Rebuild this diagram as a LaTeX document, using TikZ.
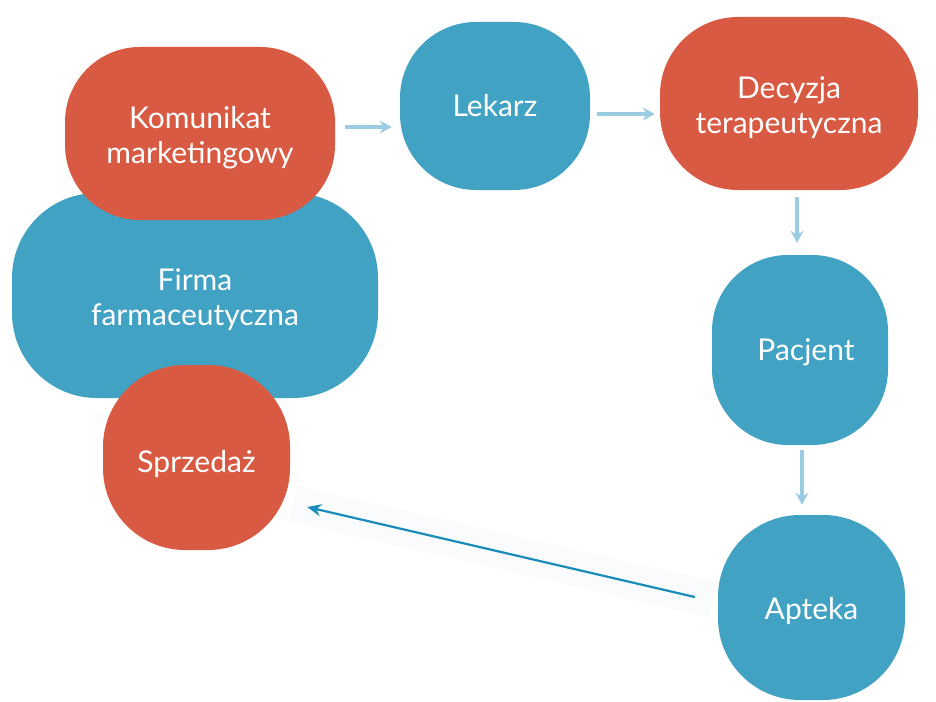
\documentclass[tikz,border=0pt]{standalone}
\usepackage{fontspec}
\setmainfont{Lato}
\usetikzlibrary{arrows.meta,backgrounds}
\definecolor{cred}{HTML}{D95A42}
\definecolor{cblue}{HTML}{42A2C4}
\definecolor{clight}{HTML}{9ACDE3}
\definecolor{cdark}{HTML}{1A8CB8}
\definecolor{cband}{HTML}{FAFBFC}
\newcommand{\lowered}[2]{\raisebox{-#1}[\height][\depth]{#2}}
\newcommand{\twolines}[2]{\lowered{5pt}{\begin{tabular}{@{}c@{}}#1\\#2\end{tabular}}}
\tikzset{
  blob/.style={rounded corners=#1, inner sep=0pt, text=white, align=center,
    font=\fontsize{30}{35}\selectfont},
  redblob/.style={blob=#1, fill=cred},
  blueblob/.style={blob=#1, fill=cblue},
  lightarrow/.style={line width=3.5pt, draw=clight, -{Stealth[length=12pt,width=13pt,inset=4pt]}},
  mainarrow/.style={line width=2.2pt, draw=cdark, -{Stealth[length=14pt,width=12pt]}},
}
\begin{document}
\begin{tikzpicture}[x=1pt,y=-1pt]
\useasboundingbox (0,0) rectangle (936,701);
\node[blueblob=85, minimum width=366pt, minimum height=205pt] (firma) at (195,295.5) {\twolines{Firma}{farmaceutyczna}};
\node[redblob=75, minimum width=270pt, minimum height=173pt] (kom) at (200,133.5) {\twolines{Komunikat}{marketingowy}};
\node[redblob=82, minimum width=187pt, minimum height=185pt] (sprz) at (196.5,457.5) {\lowered{7pt}{Sprzedaż}};
\node[blueblob=76, minimum width=190pt, minimum height=168pt] (lek) at (495,106) {Lekarz};
\node[redblob=78, minimum width=258pt, minimum height=173pt] (dec) at (789,103.5) {\twolines{Decyzja}{terapeutyczna}};
\node[blueblob=76, minimum width=176pt, minimum height=190pt] (pac) at (800,350) {\hspace*{12pt}\lowered{2pt}{Pacjent}};
\node[blueblob=82, minimum width=187pt, minimum height=185pt] (apt) at (811.5,607.5) {\lowered{4pt}{Apteka}};

\draw[lightarrow] ([shift={(10,-6.5)}]kom.east) -- ([shift={(-8,21)}]lek.west);
\draw[lightarrow] ([shift={(7,8)}]lek.east) -- ([shift={(-5,10.5)}]dec.west);
\draw[lightarrow] ([shift={(8,7)}]dec.south) -- ([shift={(-3,-12)}]pac.north);
\draw[lightarrow] ([shift={(2,5)}]pac.south) -- ([shift={(-9.5,-10)}]apt.north);

\coordinate (bandA) at ([shift={(-5,-8)}]apt.west);
\coordinate (bandB) at ([shift={(3,46)}]sprz.east);
\begin{scope}[on background layer]
\draw[line width=36pt, draw=cband] (bandA) -- (bandB);
\end{scope}
\draw[mainarrow] ([shift={(-23,-10.5)}]apt.west) -- ([shift={(17,49.5)}]sprz.east);
\end{tikzpicture}
\end{document}
